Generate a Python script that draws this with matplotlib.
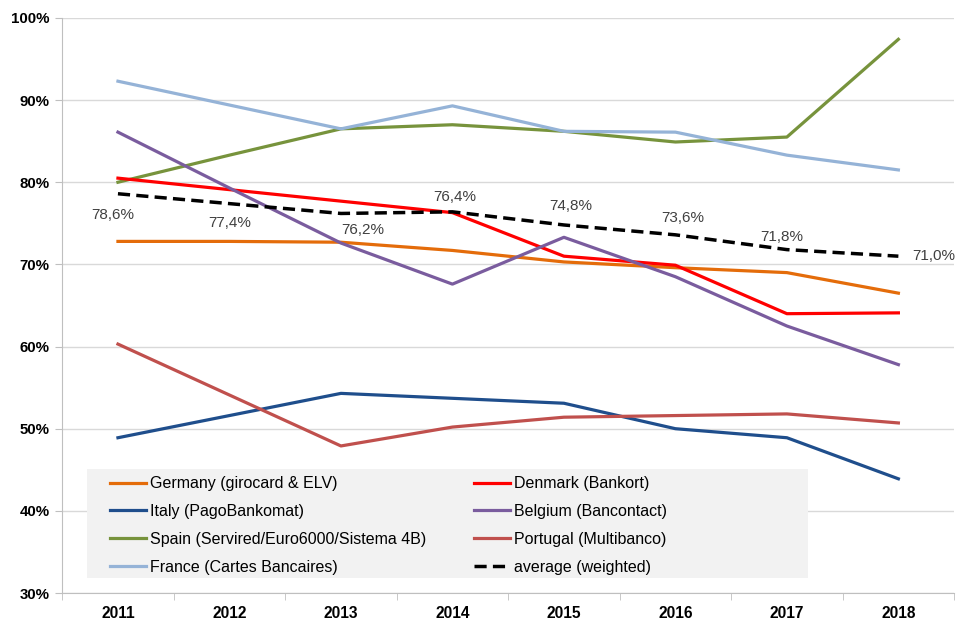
import matplotlib
matplotlib.use("Agg")
import matplotlib.pyplot as plt
from matplotlib.patches import Rectangle
import numpy as np

plt.rcParams['font.family'] = ['Liberation Sans', 'DejaVu Sans']

years = ["2011", "2012", "2013", "2014", "2015", "2016", "2017", "2018"]

germany = [72.8, 72.8, 72.7, 71.7, 70.3, 69.6, 69.0, 66.5]
italy = [48.9, 51.6, 54.3, 53.7, 53.1, 50.0, 48.9, 43.9]
spain = [80.0, 83.3, 86.5, 87.0, 86.2, 84.9, 85.5, 97.4]
france = [92.3, 89.4, 86.5, 89.3, 86.2, 86.1, 83.3, 81.5]
denmark = [80.5, 79.1, 77.7, 76.3, 71.0, 69.9, 64.0, 64.1]
belgium = [86.1, 79.3, 72.6, 67.6, 73.3, 68.5, 62.5, 57.8]
portugal = [60.3, 54.1, 47.9, 50.2, 51.4, 51.6, 51.8, 50.7]
average = [78.6, 77.4, 76.2, 76.4, 74.8, 73.6, 71.8, 71.0]
average_labels = ["78,6%", "77,4%", "76,2%", "76,4%", "74,8%", "73,6%", "71,8%", "71,0%"]

series = [
    ("Germany (girocard & ELV)", germany, "#E46C0A"),
    ("Italy (PagoBankomat)", italy, "#1F4E8C"),
    ("Spain (Servired/Euro6000/Sistema 4B)", spain, "#77933C"),
    ("France (Cartes Bancaires)", france, "#95B3D7"),
    ("Denmark (Bankort)", denmark, "#FF0000"),
    ("Belgium (Bancontact)", belgium, "#7A5C9E"),
    ("Portugal (Multibanco)", portugal, "#C0504D"),
]

fig = plt.figure(figsize=(9.57, 6.19), dpi=100)
ax = fig.add_axes([0.065, 0.042, 0.932, 0.929])

x = np.arange(len(years))
handles = []
for name, vals, col in series:
    h, = ax.plot(x, vals, color=col, lw=2.3, label=name, zorder=3)
    handles.append(h)
h, = ax.plot(x, average, color="black", lw=2.5, ls=(0, (3.5, 1.8)),
             label="average (weighted)", zorder=4)
handles.append(h)

# data labels for the weighted average (offsets in points)
offsets = [(-3.5, -15), (0, -14), (16, -12), (1.5, 10.5), (5, 14), (5, 12), (-3.5, 9), (10, 0)]
for i, (xi, yi, lab, off) in enumerate(zip(x, average, average_labels, offsets)):
    ha = "left" if i == len(x) - 1 else "center"
    ax.annotate(lab, (xi, yi), xytext=off, textcoords="offset points",
                ha=ha, va="center", fontsize=11, color="#404040", annotation_clip=False)

ax.set_xlim(-0.5, 7.5)
ax.set_ylim(30, 100)
ax.set_yticks(np.arange(30, 101, 10))
ax.set_yticklabels([f"{v}%" for v in range(30, 101, 10)], fontweight="bold", fontsize=10.8)
ax.set_xticks(x)
ax.set_xticklabels(years, fontweight="bold", fontsize=11.2)
ax.set_xticks(np.arange(-0.5, 8, 1), minor=True)
ax.tick_params(axis="x", which="major", length=0, pad=9)
ax.tick_params(axis="x", which="minor", length=5, color="#bfbfbf")
ax.tick_params(axis="y", length=5, color="#bfbfbf", pad=4)

ax.yaxis.grid(True, color="#d9d9d9", lw=1)
ax.set_axisbelow(True)
for s in ["top", "right"]:
    ax.spines[s].set_visible(False)
for s in ["left", "bottom"]:
    ax.spines[s].set_color("#bfbfbf")

# legend background box
ax.add_patch(Rectangle((0.028, 0.026), 0.808, 0.19, transform=ax.transAxes,
                       facecolor="#f2f2f2", edgecolor="none", zorder=4.5))
leg = ax.legend(handles=handles, ncol=2, loc="upper left",
                bbox_to_anchor=(0.0536, 0.203), borderaxespad=0, borderpad=0,
                frameon=False, fontsize=11.5, handlelength=2.25,
                handletextpad=0.25, labelspacing=0.8, columnspacing=3.0)
leg.set_zorder(5)

fig.savefig("out.png", dpi=100)
